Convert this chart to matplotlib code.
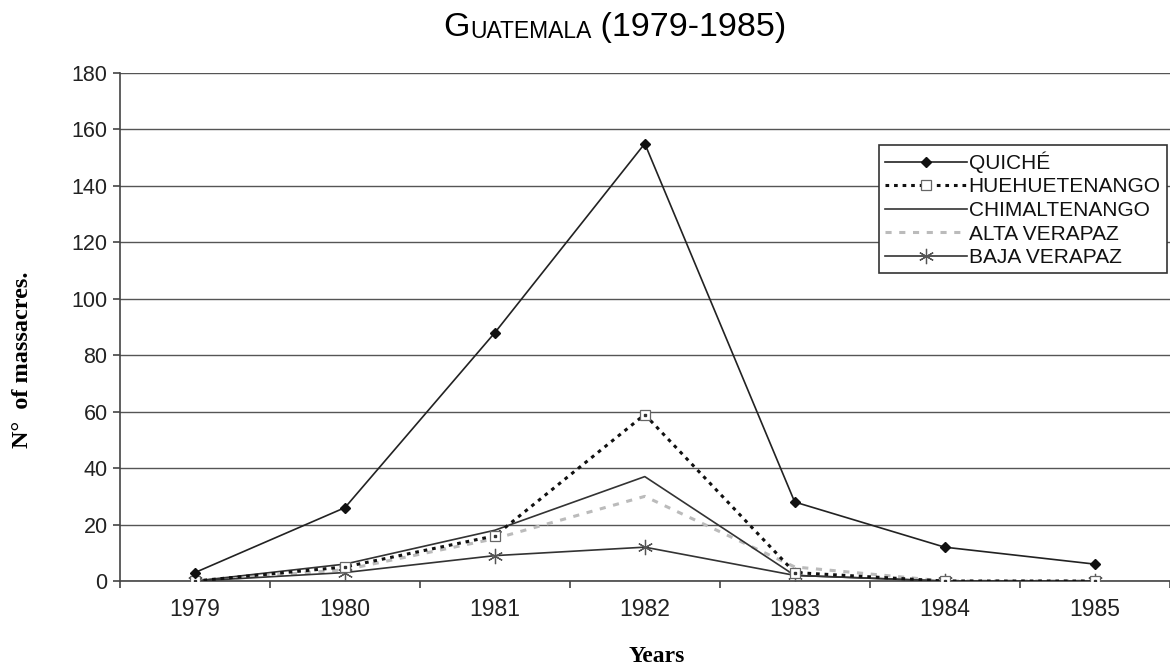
import matplotlib.pyplot as plt
import numpy as np

years = ["1979", "1980", "1981", "1982", "1983", "1984", "1985"]
quiche = [3, 26, 88, 155, 28, 12, 6]
huehuetenango = [0, 5, 16, 59, 3, 0, 0]
chimaltenango = [0, 6, 18, 37, 2, 0, 0]
alta_verapaz = [0, 4, 15, 30, 5, 0, 0]
baja_verapaz = [0, 3, 9, 12, 2, 0, 0]

plt.rcParams["font.family"] = ["Liberation Sans", "DejaVu Sans"]

fig = plt.figure(figsize=(11.7, 6.68), dpi=100)
ax = fig.add_axes([0.1026, 0.1302, 0.897, 0.7605])

x = np.arange(len(years))

ax.plot(x, quiche, color="#222222", lw=1.2, marker="D", ms=5.5,
        mfc="#111111", mec="#111111", label="QUICHÉ", zorder=5)
ax.plot(x, huehuetenango, color="#111111", lw=2.2, ls=(0, (1.2, 1.6)),
        marker="s", ms=6.5, mfc="white", mec="#666666", mew=0.9,
        label="HUEHUETENANGO", zorder=4)
ax.plot(x, huehuetenango, ls="none", marker="s", ms=2, mfc="#333333",
        mec="#333333", zorder=6)
ax.plot(x, chimaltenango, color="#333333", lw=1.2, label="CHIMALTENANGO",
        zorder=3)
ax.plot(x, alta_verapaz, color="#bbbbbb", lw=2.2, ls=(0, (2, 2.5)),
        label="ALTA VERAPAZ", zorder=2)
ax.plot(x, baja_verapaz, color="#333333", lw=1.2, marker=(6, 2, 0), ms=11,
        mec="#555555", mew=0.9, label="BAJA VERAPAZ", zorder=3)

ax.set_xlim(-0.5, len(years) - 0.5)
ax.set_ylim(0, 180)
ax.set_yticks(np.arange(0, 181, 20))
ax.set_xticks(x)
ax.set_xticklabels(years)
ax.set_xticks(np.arange(-0.5, len(years), 1), minor=True)
ax.tick_params(axis="x", which="major", length=0, pad=12, labelsize=16.5,
               labelcolor="#222222")
ax.tick_params(axis="x", which="minor", length=5, width=1.2, color="#444444",
               direction="out")
ax.tick_params(axis="y", length=5, width=1.2, color="#444444", pad=4,
               labelsize=15.5, labelcolor="#222222")

ax.grid(axis="y", color="#555555", lw=1.0)
ax.set_axisbelow(True)
for s in ("top", "right"):
    ax.spines[s].set_visible(False)
ax.spines["left"].set_color("#444444")
ax.spines["bottom"].set_color("#444444")
ax.spines["left"].set_linewidth(1.2)
ax.spines["bottom"].set_linewidth(1.2)

leg = ax.legend(loc="upper right", bbox_to_anchor=(0.9975, 0.858),
                fontsize=15, handlelength=3.9, handletextpad=0.1,
                labelspacing=0.22, borderpad=0.3, fancybox=False,
                framealpha=1, edgecolor="#333333", borderaxespad=0)
leg.get_frame().set_linewidth(1.2)
for t in leg.get_texts():
    t.set_color("#111111")

ax.set_ylabel("N°  of massacres.", family="Liberation Serif", weight="bold",
              fontsize=17.5)
ax.yaxis.set_label_coords(-0.083, 0.435)
fig.text(0.5615, 0.017, "Years", family="Liberation Serif", weight="bold",
         fontsize=17, ha="center", va="center")

# title in small caps
t1 = fig.text(0.379, 0.946, "G", fontsize=24.5, va="baseline", ha="left")
t2 = ax.annotate("UATEMALA", xy=(1, 0), xycoords=t1, fontsize=16.5,
                 va="bottom", ha="left", annotation_clip=False)
ax.annotate(" (1979-1985)", xy=(1, 0), xycoords=t2, fontsize=24.5,
            va="bottom", ha="left", annotation_clip=False)

fig.savefig("out.png", dpi=100)
